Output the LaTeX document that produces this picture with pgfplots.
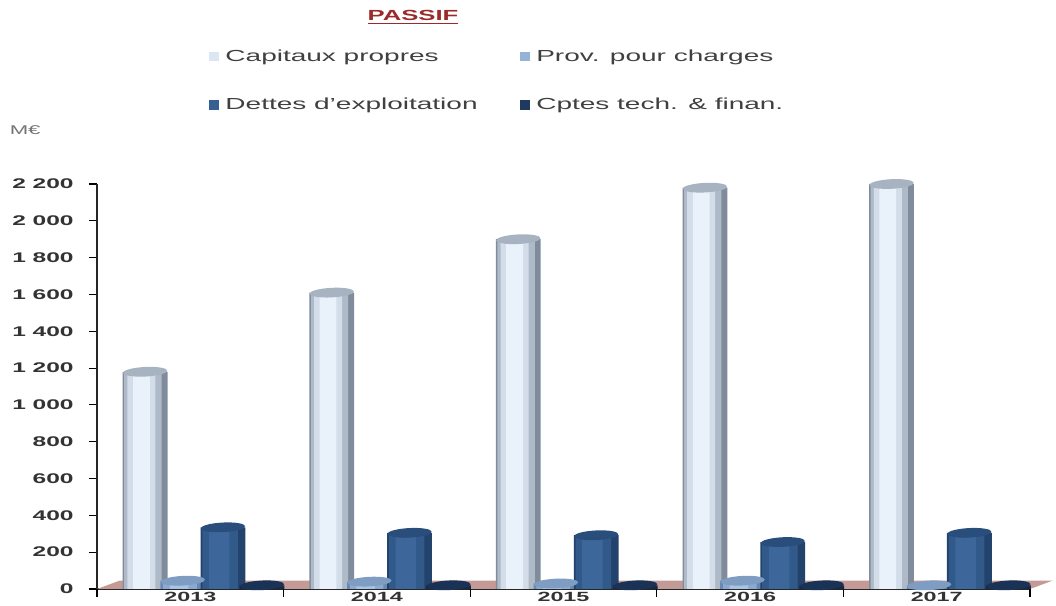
\documentclass[border=0pt]{standalone}
\usepackage{pgfplots}
\pgfplotsset{compat=1.18}
\usepackage{pgfplotstable}
\usepackage{fontspec}
\setmainfont{Liberation Sans}[FakeStretch=1.75]
\definecolor{cap0}{HTML}{808C9B}
\definecolor{cap1}{HTML}{AEBAC8}
\definecolor{cap2}{HTML}{D3DDE9}
\definecolor{cap3}{HTML}{E9F1FB}
\definecolor{capT}{HTML}{A7B3C1}
\definecolor{capL}{HTML}{DCE6F2}
\definecolor{prov0}{HTML}{6A89B2}
\definecolor{prov1}{HTML}{8BAAD2}
\definecolor{prov2}{HTML}{A8C3E4}
\definecolor{provT}{HTML}{7F9CC2}
\definecolor{provL}{HTML}{95B3D7}
\definecolor{det0}{HTML}{23436C}
\definecolor{det1}{HTML}{31598A}
\definecolor{det2}{HTML}{3D679B}
\definecolor{detT}{HTML}{2A4E7C}
\definecolor{detL}{HTML}{376092}
\definecolor{cpt0}{HTML}{142848}
\definecolor{cpt1}{HTML}{1C365C}
\definecolor{cpt2}{HTML}{234166}
\definecolor{cptT}{HTML}{1A3256}
\definecolor{cptL}{HTML}{1F3A5F}
\definecolor{floorc}{HTML}{C49A96}
\definecolor{titlec}{HTML}{9B2B2B}
\newlength\px \setlength\px{0.75pt}
\pgfdeclareplotmark{cyltop}{%
  \pgfpathellipse{\pgfpointorigin}{\pgfqpoint{16.6pt}{0.8pt}}{\pgfqpoint{0pt}{3.6pt}}%
  \pgfusepathqfill}
\pgfplotstableread{
x cap prov det cpt
0 1180 45 335 20
1 1610 40 305 20
2 1900 30 292 20
3 2180 45 255 20
4 2200 20 305 20
}\data
\begin{document}
\begin{tikzpicture}
\useasboundingbox (-97\px,-17\px) rectangle (959\px,589\px);
\begin{axis}[
  at={(0,0)}, anchor=south west,
  scale only axis, width=933\px, height=405\px,
  xmin=-0.5, xmax=4.5, ymin=0, ymax=2200,
  axis x line*=bottom, axis y line*=left,
  axis line style={draw=black!85, line width=1.2pt},
  ytick={0,200,...,2200},
  yticklabel style={font=\bfseries\fontsize{10.5}{12}\selectfont, text=black!80, xshift=-8pt},
  /pgf/number format/assume math mode=true,
  /pgf/number format/1000 sep={\ },
  ytick align=outside, major tick length=6pt,
  ytick style={draw=black, line width=0.8pt},
  xtick={0,...,4}, xticklabels={2013,2014,2015,2016,2017},
  x tick style={draw=none},
  xticklabel style={font=\bfseries\fontsize{10}{11}\selectfont, text=black!80, inner sep=0pt, yshift=3.6pt},
  extra x ticks={-0.5,0.5,1.5,2.5,3.5,4.5}, extra x tick labels={},
  extra x tick style={xtick align=outside, major tick length=6pt, x tick style={draw=black, line width=0.8pt}},
  ybar,
  legend columns=2,
  legend cell align=left,
  legend style={at={(0.116,1.345)}, anchor=north west, draw=none, fill=none,
    font=\fontsize{12}{14}\selectfont, text=black!75,
    /tikz/every even column/.append style={column sep=30pt},
    row sep=22pt},
  legend image code/.code={\fill[#1, draw=none] (0pt,-3.5pt) rectangle (7pt,3.5pt);},
  clip=false,
]
\fill[floorc] (axis cs:-0.5,0) -- (axis cs:-0.38,45) -- (axis cs:4.62,45) -- (axis cs:4.5,0) -- cycle;
% Capitaux propres
\addplot[ybar, bar width=0.24, bar shift=-0.242, draw=none, fill=cap0, forget plot] table[x=x,y=cap]{\data};
\addplot[ybar, bar width=0.20, bar shift=-0.254, draw=none, fill=cap1, forget plot] table[x=x,y=cap]{\data};
\addplot[ybar, bar width=0.15, bar shift=-0.262, draw=none, fill=cap2, forget plot] table[x=x,y=cap]{\data};
\addplot[ybar, bar width=0.09, bar shift=-0.262, draw=none, fill=cap3, forget plot] table[x=x,y=cap]{\data};
\addplot[only marks, mark=cyltop, mark options={fill=capT, draw=none}, forget plot] table[x expr=\thisrow{x}-0.242,y=cap]{\data};
% Prov. pour charges
\addplot[ybar, bar width=0.24, bar shift=-0.04, draw=none, fill=prov0, forget plot] table[x=x,y=prov]{\data};
\addplot[ybar, bar width=0.18, bar shift=-0.055, draw=none, fill=prov1, forget plot] table[x=x,y=prov]{\data};
\addplot[ybar, bar width=0.10, bar shift=-0.06, draw=none, fill=prov2, forget plot] table[x=x,y=prov]{\data};
\addplot[only marks, mark=cyltop, mark options={fill=provT, draw=none}, forget plot] table[x expr=\thisrow{x}-0.04,y=prov]{\data};
% Dettes d'exploitation
\addplot[ybar, bar width=0.24, bar shift=0.175, draw=none, fill=det0, forget plot] table[x=x,y=det]{\data};
\addplot[ybar, bar width=0.19, bar shift=0.16, draw=none, fill=det1, forget plot] table[x=x,y=det]{\data};
\addplot[ybar, bar width=0.11, bar shift=0.155, draw=none, fill=det2, forget plot] table[x=x,y=det]{\data};
\addplot[only marks, mark=cyltop, mark options={fill=detT, draw=none}, forget plot] table[x expr=\thisrow{x}+0.175,y=det]{\data};
% Cptes tech. & finan.
\addplot[ybar, bar width=0.24, bar shift=0.384, draw=none, fill=cpt0, forget plot] table[x=x,y=cpt]{\data};
\addplot[ybar, bar width=0.16, bar shift=0.37, draw=none, fill=cpt1, forget plot] table[x=x,y=cpt]{\data};
\addplot[only marks, mark=cyltop, mark options={fill=cptT, draw=none}, forget plot] table[x expr=\thisrow{x}+0.384,y=cpt]{\data};
\addlegendimage{fill=capL}
\addlegendentry{\hspace{3pt}Capitaux propres}
\addlegendimage{fill=provL}
\addlegendentry{\hspace{3pt}Prov. pour charges}
\addlegendimage{fill=detL}
\addlegendentry{\hspace{3pt}Dettes d'exploitation}
\addlegendimage{fill=cptL}
\addlegendentry{\hspace{3pt}Cptes tech. \& finan.}
\node[font=\bfseries\fontsize{11}{13}\selectfont, text=titlec] at (axis description cs:0.3387,1.412) {\underline{PASSIF}};
\node[font=\fontsize{9.5}{11}\selectfont, text=black!55] at (axis description cs:-0.077,1.133) {M€};
\end{axis}
\end{tikzpicture}
\end{document}
